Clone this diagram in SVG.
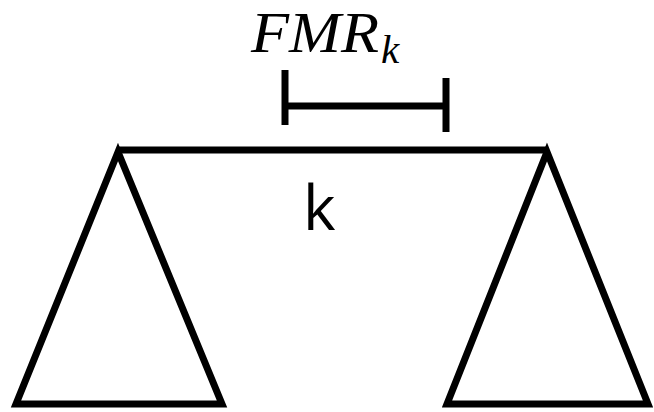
<svg xmlns="http://www.w3.org/2000/svg" width="654" height="412" viewBox="0 0 654 412">
<style>
.ln{stroke:#000;stroke-width:7;fill:none}
.tri{stroke:#000;stroke-width:7;fill:#fff;stroke-linejoin:miter}
.lbl{font-family:"Liberation Serif",serif;font-style:italic;fill:#000}
.k{font-family:"Open Sans","Liberation Sans",sans-serif;fill:#000}
</style>
<rect width="654" height="412" fill="#fff"/>
<g id="connectors">
<line class="ln" x1="118" y1="150" x2="547" y2="150"/>
</g>
<g id="left-node">
<polygon class="tri" points="118,152 16,404 222,404"/>
</g>
<g id="right-node">
<polygon class="tri" points="547,152 447,404 648,404"/>
</g>
<g id="measure">
<line class="ln" x1="285" y1="70" x2="285" y2="125"/>
<line class="ln" x1="446" y1="78" x2="446" y2="132"/>
<line class="ln" x1="285" y1="106" x2="446" y2="106"/>
</g>
<g id="fmr-label">
<text class="lbl" x="251" y="52" font-size="56" textLength="128" lengthAdjust="spacingAndGlyphs">FMR</text>
<text class="lbl" x="381" y="63" font-size="41">k</text>
</g>
<g id="edge-label">
<text class="k" x="303" y="230" font-size="62">k</text>
</g>
</svg>
